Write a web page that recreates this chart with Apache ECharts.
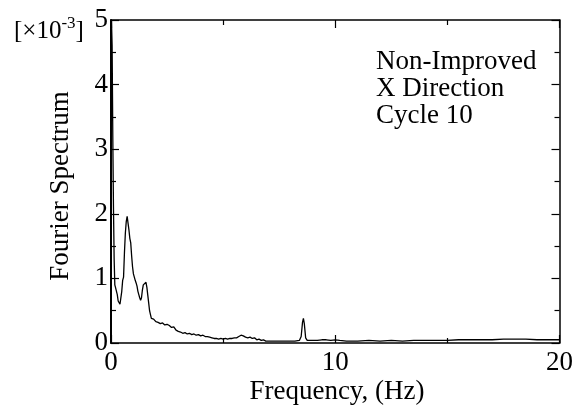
<!DOCTYPE html>
<html><head><meta charset="utf-8">
<script src="https://cdn.jsdelivr.net/npm/echarts@6/dist/echarts.min.js"></script>
<style>html,body{margin:0;padding:0;background:#fff}#c{width:576px;height:409px}</style>
</head><body><div id="c"></div>
<script>
const freqHz = [0.02,0.05,0.08,0.11,0.14,0.17,0.2,0.24,0.28,0.32,0.36,0.4,0.44,0.48,0.52,0.56,0.6,0.64,0.68,0.72,0.76,0.8,0.84,0.88,0.92,0.96,1.0,1.04,1.08,1.12,1.16,1.2,1.24,1.28,1.32,1.36,1.4,1.44,1.48,1.52,1.56,1.6,1.64,1.68,1.72,1.76,1.8,1.85,1.9,1.95,2.0,2.1,2.2,2.3,2.4,2.5,2.6,2.65,2.7,2.8,2.9,3.0,3.1,3.2,3.3,3.4,3.5,3.6,3.7,3.8,3.9,4.0,4.1,4.2,4.3,4.4,4.5,4.6,4.7,4.8,4.9,5.0,5.1,5.2,5.3,5.4,5.5,5.6,5.7,5.8,5.9,6.0,6.1,6.2,6.3,6.4,6.5,6.6,6.7,6.8,6.9,7.0,7.2,7.4,7.6,7.8,8.0,8.2,8.4,8.48,8.54,8.58,8.62,8.68,8.75,9.0,9.2,9.4,9.6,9.8,10.0,10.2,10.5,11,11.5,12,12.5,13,13.5,14,14.5,15,15.5,16,16.5,17,17.5,18,18.5,19,19.5,20];
const spectrum = [5.0,4.6,3.2,2.1,1.3,0.9,0.86,0.84,0.75,0.65,0.62,0.6,0.63,0.8,0.97,1.02,1.4,1.7,1.88,1.96,1.93,1.75,1.62,1.55,1.35,1.18,1.07,1.02,0.97,0.93,0.88,0.8,0.75,0.7,0.66,0.7,0.82,0.9,0.92,0.88,0.94,0.86,0.74,0.62,0.5,0.44,0.38,0.35,0.37,0.34,0.33,0.32,0.3,0.31,0.28,0.29,0.27,0.29,0.24,0.25,0.2,0.18,0.17,0.15,0.16,0.14,0.15,0.13,0.14,0.12,0.13,0.11,0.12,0.1,0.1,0.09,0.08,0.07,0.07,0.06,0.07,0.06,0.07,0.06,0.07,0.07,0.08,0.08,0.1,0.12,0.11,0.09,0.08,0.09,0.07,0.08,0.05,0.06,0.04,0.05,0.03,0.03,0.03,0.03,0.03,0.03,0.03,0.03,0.04,0.1,0.32,0.38,0.3,0.08,0.04,0.04,0.04,0.05,0.05,0.04,0.05,0.04,0.03,0.03,0.04,0.03,0.04,0.03,0.04,0.04,0.04,0.04,0.05,0.05,0.05,0.05,0.06,0.06,0.06,0.05,0.05,0.05];
const yTicks = [0,1,2,3,4,5];
const xTicks = [0,10,20];
const scaleText = '[×10';
const annotation = ['Non-Improved','X Direction','Cycle 10'];
const xTitle = 'Frequency, (Hz)';
const yTitle = 'Fourier Spectrum';

const FONT = 'Liberation Serif';
const FS = 27;
const chart = echarts.init(document.getElementById('c'), null, {renderer:'canvas'});
const axisBase = {
  axisLine:{show:true,onZero:false,lineStyle:{color:'#000',width:1.5}},
  splitLine:{show:false},
  axisTick:{show:true,inside:true,length:8,lineStyle:{color:'#000',width:1.2}},
  minorTick:{show:true,splitNumber:2,length:5,lineStyle:{color:'#000',width:1.2}}
};
chart.setOption({
  animation:false,
  grid:{left:111,right:13,top:20,bottom:66,containLabel:false},
  xAxis:[
    Object.assign({type:'value',position:'bottom',min:0,max:20,interval:10,
      axisLabel:{fontFamily:FONT,fontSize:FS,color:'#000',margin:6,
        formatter:v=>xTicks.includes(v)?String(v):''}}, axisBase),
    Object.assign({type:'value',position:'top',min:0,max:20,interval:10,axisLabel:{show:false}}, axisBase)
  ],
  yAxis:[
    Object.assign({type:'value',position:'left',min:0,max:5,interval:1,
      axisLabel:{fontFamily:FONT,fontSize:FS,color:'#000',margin:3,
        formatter:v=>yTicks.includes(v)?String(v):''}}, axisBase,
      {axisLine:{show:true,onZero:false,lineStyle:{color:'#000',width:2}}}),
    Object.assign({type:'value',position:'right',min:0,max:5,interval:1,axisLabel:{show:false}}, axisBase)
  ],
  series:[{
    type:'line',xAxisIndex:0,yAxisIndex:0,showSymbol:false,clip:true,
    lineStyle:{color:'#000',width:1.3},
    data:freqHz.map((f,i)=>[f,spectrum[i]])
  }],
  graphic:[
    {type:'text',left:14,top:15,style:{
      text:'{a|'+scaleText+'}{s|-3}{a|]}',
      rich:{a:{fontFamily:FONT,fontSize:25,fill:'#000',verticalAlign:'bottom'},
            s:{fontFamily:FONT,fontSize:17,fill:'#000',verticalAlign:'top',padding:[0,0,12,0]}}
    }},
    {type:'text',x:376,y:48,style:{text:annotation.join('\n'),fontFamily:FONT,fontSize:FS,
      lineHeight:27,fill:'#000',verticalAlign:'top'}},
    {type:'text',x:337,y:392,style:{text:xTitle,fontFamily:FONT,fontSize:FS,fill:'#000',
      align:'center',verticalAlign:'middle'}},
    {type:'text',x:61,y:186,rotation:Math.PI/2,style:{text:yTitle,fontFamily:FONT,fontSize:FS,fill:'#000',
      align:'center',verticalAlign:'middle'}}
  ]
});
</script></body></html>
